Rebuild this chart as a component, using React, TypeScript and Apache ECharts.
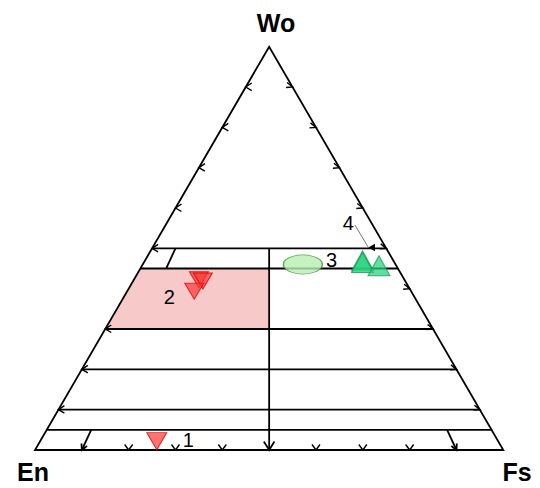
import React, { useEffect, useRef } from "react";
import * as echarts from "echarts";

// Ternary compositions: [Wo, En, Fs] (%)
const group1Points = [[2.2, 72.9, 24.9]];
const group2Points = [
  [42.2, 43.9, 13.9],
  [41.9, 43.2, 14.9],
  [39.4, 46.3, 14.3],
];
const group3Points = [[46.0, 19.8, 34.2]];
const group4Points = [
  [46.9, 6.6, 46.5],
  [46.5, 6.8, 46.7],
  [45.7, 3.7, 50.6],
];
const groupLabels = ["1", "2", "3", "4"];
const groupLabelPos = [
  [2.5, 66.0, 31.5],
  [38.0, 52.3, 9.7],
  [47.1, 13.1, 39.8],
  [56.2, 5.0, 38.8],
];
const leader4 = [
  [55.8, 3.8, 40.4],
  [50.2, 3.7, 46.1],
];
// classification field lines (Wo %)
const woLines = [50, 45, 30, 20, 10, 5];
const leftTicks = [90, 80, 70, 60, 50, 30, 20, 10];
const rightTicks = [90, 80, 70, 60, 50, 40, 30, 20, 10];
const baseTicks = [20, 30, 40, 60, 70, 80];
// shaded field: Wo 30-45, Fs/(En+Fs) 0-50
const shadedField = [
  [45, 55, 0],
  [45, 27.5, 27.5],
  [30, 35, 35],
  [30, 70, 0],
];
const apexNames = ["Wo", "En", "Fs"];

const toXY = (t: number[]) => {
  const [wo, en, fs] = t;
  const s = wo + en + fs;
  return [(fs + wo / 2) / s, wo / s];
};
const atRatio = (wo: number, r: number) => [wo, (100 - wo) * (1 - r), (100 - wo) * r];

export default function App() {
  const ref = useRef<HTMLDivElement>(null);
  useEffect(() => {
    if (!ref.current) return;
    const chart = echarts.init(ref.current, null, { renderer: "svg" });
    const FONT = "'Liberation Sans', Arial, sans-serif";

    const renderFrame = (params: any, api: any) => {
      const P = (t: number[]) => api.coord(toXY(t));
      const children: any[] = [];
      const stroke = "#000";
      const lw = 1.8;
      const seg = (a: number[], b: number[], w = lw, c = stroke) => ({
        type: "line",
        shape: { x1: a[0], y1: a[1], x2: b[0], y2: b[1] },
        style: { stroke: c, lineWidth: w },
      });
      const chev = (p: number[], d1: number[], d2: number[], w = 1.4) => ({
        type: "polyline",
        shape: {
          points: [
            [p[0] + d1[0], p[1] + d1[1]],
            [p[0], p[1]],
            [p[0] + d2[0], p[1] + d2[1]],
          ],
        },
        style: { stroke, lineWidth: w, fill: null },
      });
      const arrowHead = (a: number[], b: number[], L: number, ang: number) => {
        const dx = b[0] - a[0];
        const dy = b[1] - a[1];
        const len = Math.hypot(dx, dy);
        const ux = dx / len;
        const uy = dy / len;
        const rot = (s: number) => {
          const c = Math.cos(s * ang);
          const sn = Math.sin(s * ang);
          const bx = -ux * L;
          const by = -uy * L;
          return [bx * c - by * sn, bx * sn + by * c];
        };
        return chev(b, rot(1), rot(-1), lw);
      };

      // shaded field
      children.push({
        type: "polygon",
        shape: { points: shadedField.map(P) },
        style: { fill: "#f8c9c9", stroke: null },
      });
      // outer triangle
      const En = P([0, 100, 0]);
      const Fs = P([0, 0, 100]);
      const Wo = P([100, 0, 0]);
      children.push({
        type: "polygon",
        shape: { points: [En, Fs, Wo] },
        style: { fill: null, stroke, lineWidth: lw },
      });
      // horizontal Wo lines
      woLines.forEach((w) => {
        children.push(seg(P([w, 100 - w, 0]), P([w, 0, 100 - w])));
      });
      // En = Fs divider with arrow
      const vA = P([50, 25, 25]);
      const vB = P([0, 50, 50]);
      children.push(seg(vA, vB));
      children.push(arrowHead(vA, vB, 10, (32 * Math.PI) / 180));
      // Fs/(En+Fs) = 10% between Wo 45 and 50
      children.push(seg(P(atRatio(50, 0.1)), P(atRatio(45, 0.1))));
      // 10% and 90% lines between Wo 0 and 5 with arrows
      [0.1, 0.9].forEach((r) => {
        const a = P(atRatio(5, r));
        const b = P(atRatio(0, r));
        children.push(seg(a, b));
        children.push(arrowHead(a, b, 6.5, (28 * Math.PI) / 180));
      });
      // ticks
      leftTicks.forEach((w) => {
        const p = P([w, 100 - w, 0]);
        children.push(chev(p, [6, -4], [6, 3.5]));
      });
      rightTicks.forEach((w) => {
        const p = P([w, 0, 100 - w]);
        children.push(chev(p, [-5.5, -4.5], [-6.5, 0.5]));
      });
      baseTicks.forEach((f) => {
        const p = P([0, 100 - f, f]);
        children.push(chev(p, [-4, -5.5], [4, -5.5]));
      });
      // leader line for group 4
      const l0 = P(leader4[0]);
      const l1 = P(leader4[1]);
      children.push(seg(l0, l1, 1, "#777"));
      children.push({
        type: "polygon",
        shape: {
          points: [
            [l1[0], l1[1]],
            [l1[0] + 6.5, l1[1] - 3.8],
            [l1[0] + 6.5, l1[1] + 3.8],
          ],
        },
        style: { fill: "#000", stroke: null },
      });
      return { type: "group", children };
    };

    const renderLabels = (params: any, api: any) => {
      const children = groupLabelPos.map((t, i) => {
        const p = api.coord(toXY(t));
        return {
          type: "text",
          x: p[0],
          y: p[1],
          style: {
            text: groupLabels[i],
            font: `20px ${FONT}`,
            fill: "#000",
            align: "center",
            verticalAlign: "middle",
          },
        };
      });
      return { type: "group", children };
    };

    const redStyle = {
      color: "rgba(255,55,55,0.88)",
      borderColor: "#d00000",
      borderWidth: 1,
    };
    const greenStyle = {
      color: "rgba(40,212,125,0.92)",
      borderColor: "#1a9656",
      borderWidth: 1,
    };

    chart.setOption({
      animation: false,
      grid: { left: 35, right: 36.7, top: 46.7, bottom: 38, containLabel: false },
      xAxis: { type: "value", min: 0, max: 1, show: false },
      yAxis: { type: "value", min: 0, max: 1, show: false },
      series: [
        {
          type: "custom",
          renderItem: renderFrame,
          data: [[0, 0]],
          silent: true,
          z: 1,
        },
        {
          name: "1",
          type: "scatter",
          data: group1Points.map(toXY),
          symbol: "triangle",
          symbolRotate: 180,
          symbolSize: [20, 17],
          itemStyle: redStyle,
          z: 3,
        },
        {
          name: "2",
          type: "scatter",
          data: group2Points.map(toXY),
          symbol: "triangle",
          symbolRotate: 180,
          symbolSize: [19, 16],
          itemStyle: redStyle,
          z: 3,
        },
        {
          name: "3",
          type: "scatter",
          data: group3Points.map(toXY),
          symbol: "circle",
          symbolSize: [39, 19],
          itemStyle: { color: "#b8eeb2", borderColor: "#3f8a3f", borderWidth: 1 },
          z: 3,
        },
        {
          name: "4",
          type: "scatter",
          data: group4Points.map(toXY),
          symbol: "triangle",
          symbolSize: [22, 20],
          itemStyle: greenStyle,
          z: 3,
        },
        {
          type: "custom",
          renderItem: renderLabels,
          data: [[0, 0]],
          silent: true,
          z: 4,
        },
      ],
      graphic: [
        { x: 276, y: 23 },
        { x: 33, y: 472 },
        { x: 517, y: 472 },
      ].map((p, i) => ({
        type: "text",
        x: p.x,
        y: p.y,
        style: {
          text: apexNames[i],
          font: `bold 25px ${FONT}`,
          fill: "#000",
          textAlign: "center",
          textVerticalAlign: "middle",
        },
      })),
    });
    return () => chart.dispose();
  }, []);
  return (
    <div
      ref={ref}
      style={{ position: "absolute", left: 0, top: 0, width: 540, height: 488, background: "#fff" }}
    />
  );
}
